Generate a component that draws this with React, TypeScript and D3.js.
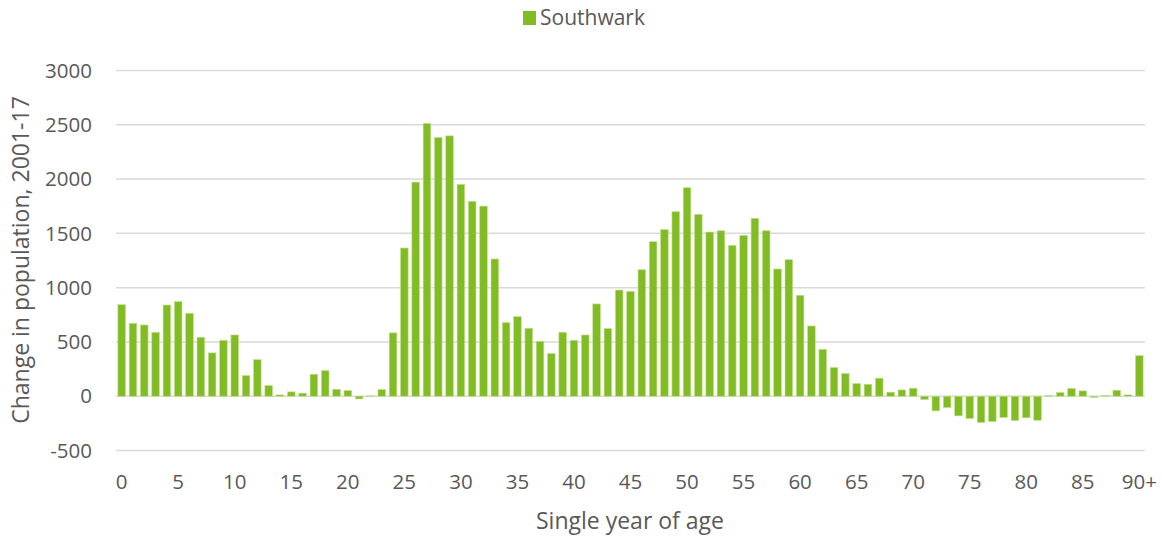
import React from "react";
import * as d3 from "d3";

const ages: string[] = Array.from({ length: 91 }, (_, i) => (i === 90 ? "90+" : String(i)));
const values: number[] = [
  843, 672, 656, 589, 840, 871, 764, 543, 399, 515,
  564, 190, 337, 98, 12, 40, 28, 202, 236, 64,
  52, -25, 3, 61, 583, 1365, 1972, 2512, 2383, 2398,
  1951, 1794, 1751, 1264, 678, 733, 626, 506, 393, 589,
  515, 564, 850, 623, 978, 966, 1165, 1423, 1534, 1699,
  1920, 1675, 1512, 1524, 1389, 1481, 1638, 1524, 1172, 1257,
  929, 647, 432, 264, 209, 117, 110, 166, 37, 58,
  74, -31, -135, -104, -181, -205, -242, -233, -196, -224,
  -199, -221, 6, 34, 71, 49, -12, 6, 55, 12,
  374,
];
const yTicks: number[] = [-500, 0, 500, 1000, 1500, 2000, 2500, 3000];
const xTickLabels: string[] = ["0", "5", "10", "15", "20", "25", "30", "35", "40", "45", "50", "55", "60", "65", "70", "75", "80", "85", "90+"];
const seriesName = "Southwark";

const W = 1162;
const H = 538;
const left = 116;
const right = 1145;
const top = 70.5;
const bottom = 450.5;
const color = "#82bc24";
const font = "'Open Sans', sans-serif";
const textColor = "#595959";

export default function App() {
  const x = d3.scaleBand<string>().domain(ages).range([left, right]).paddingInner(0.33).paddingOuter(0.165);
  const y = d3.scaleLinear().domain([-500, 3000]).range([bottom, top]);
  return (
    <svg width={W} height={H} style={{ position: "absolute", left: 0, top: 0, background: "#fff" }}>
      {yTicks.map((t) => (
        <g key={t}>
          <line x1={left} x2={right} y1={y(t)} y2={y(t)} stroke="#d9d9d9" strokeWidth={1.5} />
          <text x={92} y={y(t)} dy="0.35em" textAnchor="end" fontFamily={font} fontSize={20.5} fill={textColor}>
            {t}
          </text>
        </g>
      ))}
      {values.map((v, i) => {
        const y0 = y(0);
        const yv = y(v);
        return (
          <rect
            key={i}
            x={x(ages[i])!}
            width={x.bandwidth()}
            y={Math.min(y0, yv)}
            height={Math.abs(yv - y0)}
            fill={color}
            stroke="#bfe08a"
            strokeWidth={0.6}
          />
        );
      })}
      {xTickLabels.map((l) => (
        <text
          key={l}
          x={x(l)! + x.bandwidth() / 2}
          y={482}
          dy="0.35em"
          textAnchor="middle"
          fontFamily={font}
          fontSize={20.5}
          fill={textColor}
        >
          {l}
        </text>
      ))}
      <text x={630} y={521} dy="0.35em" textAnchor="middle" fontFamily={font} fontSize={23} fill={textColor}>
        Single year of age
      </text>
      <text
        transform={`translate(21, 260) rotate(-90)`}
        dy="0.35em"
        textAnchor="middle"
        fontFamily={font}
        fontSize={23}
        fill={textColor}
      >
        Change in population, 2001-17
      </text>
      <rect x={523} y={11} width={13} height={14} fill={color} />
      <text x={540} y={18} dy="0.35em" fontFamily={font} fontSize={21} fill={textColor}>
        {seriesName}
      </text>
    </svg>
  );
}
